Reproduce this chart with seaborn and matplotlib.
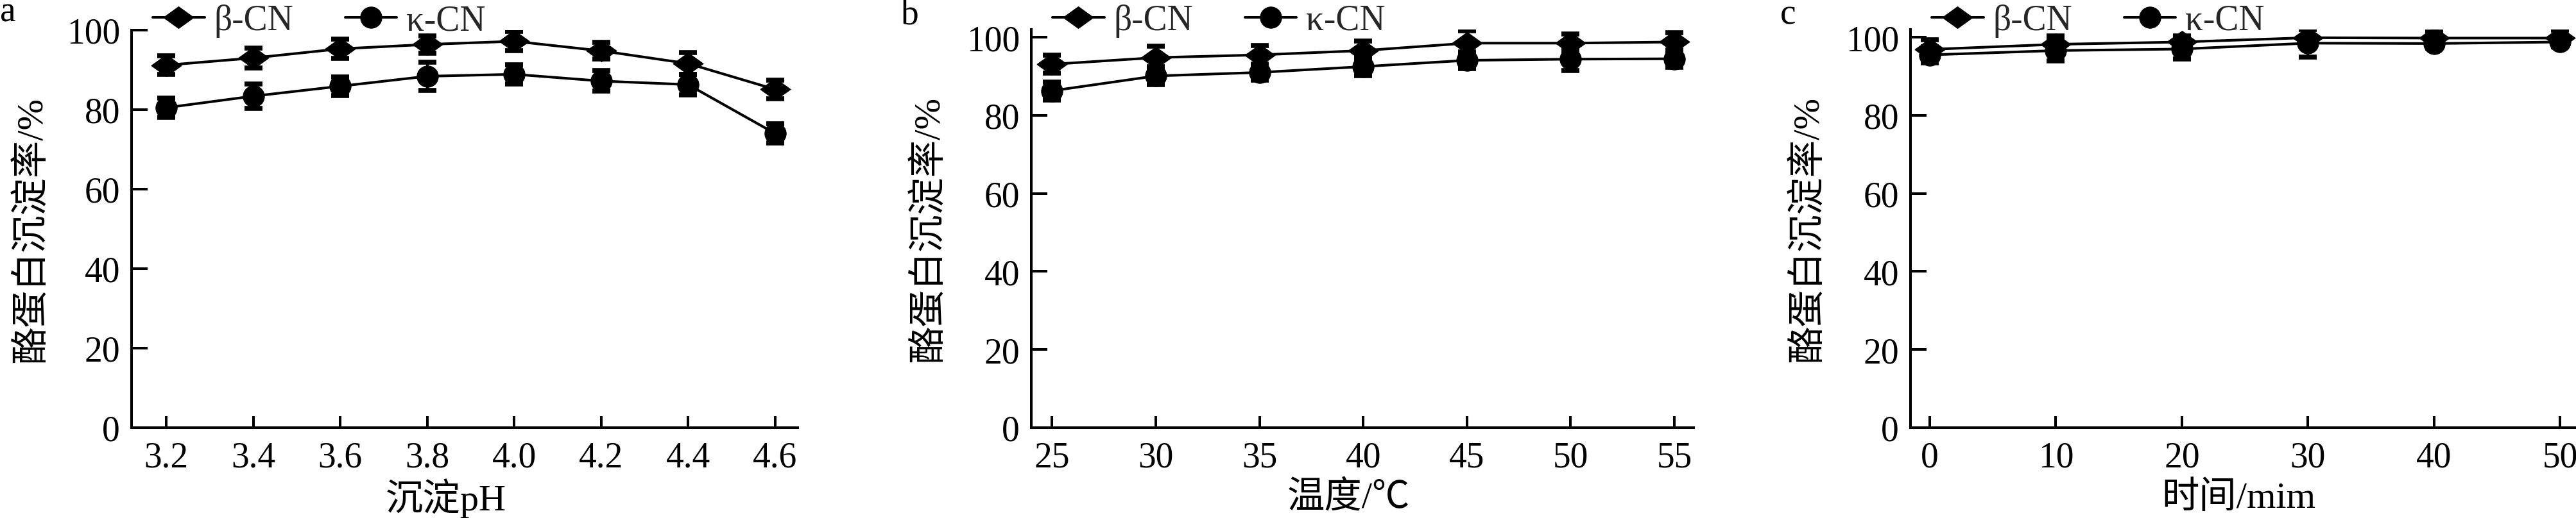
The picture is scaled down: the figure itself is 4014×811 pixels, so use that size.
import matplotlib
matplotlib.use("Agg")
import matplotlib.pyplot as plt
import seaborn as sns
import numpy as np

# ---------------- data ----------------
ph = [3.2, 3.4, 3.6, 3.8, 4.0, 4.2, 4.4, 4.6]
ph_labels = ["3.2", "3.4", "3.6", "3.8", "4.0", "4.2", "4.4", "4.6"]
a_beta = [91.2, 93.0, 95.3, 96.4, 97.2, 94.8, 91.6, 85.1]
a_beta_err = [2.3, 2.5, 2.4, 2.2, 2.4, 2.1, 2.7, 2.4]
a_kappa = [80.5, 83.4, 85.9, 88.4, 88.9, 87.2, 86.3, 74.0]
a_kappa_err = [2.4, 3.0, 2.4, 3.6, 2.4, 2.6, 2.6, 2.4]

temp = [25, 30, 35, 40, 45, 50, 55]
temp_labels = ["25", "30", "35", "40", "45", "50", "55"]
b_beta = [93.1, 94.8, 95.5, 96.6, 98.5, 98.5, 98.8]
b_beta_err = [2.3, 2.9, 2.4, 2.5, 3.1, 2.4, 2.4]
b_kappa = [86.3, 90.1, 91.0, 92.5, 94.1, 94.4, 94.5]
b_kappa_err = [2.3, 2.3, 2.0, 2.4, 2.2, 2.9, 2.2]

time = [0, 10, 20, 30, 40, 50]
time_labels = ["0", "10", "20", "30", "40", "50"]
c_beta = [96.9, 98.2, 98.8, 99.9, 99.8, 99.8]
c_beta_err = [2.4, 2.2, 1.5, 2.3, 1.5, 2.0]
c_kappa = [95.5, 96.6, 97.0, 98.5, 98.4, 98.8]
c_kappa_err = [2.1, 2.7, 2.6, 3.5, 1.2, 1.2]

y_ticks = [0, 20, 40, 60, 80, 100]
y_label = "酪蛋白沉淀率/%"
series_names = ["β-CN", "κ-CN"]
x_titles = ["沉淀pH", "温度/℃", "时间/mim"]
panel_letters = ["a", "b", "c"]

# ---------------- style ----------------
sns.set_style("white")
plt.rcParams["font.family"] = ["Liberation Serif", "Noto Sans CJK SC", "DejaVu Sans"]
plt.rcParams["axes.unicode_minus"] = False

FS = 40
LFS = 42
LW = 2.9
wide_diamond = [(-1, 0), (0, 0.72), (1, 0), (0, -0.72), (-1, 0)]

fig = plt.figure(figsize=(40.14, 8.12), dpi=100)
W, H = 4014.0, 812.0
bottom_px = 668.0

panels = [
    dict(left=205, right=1243, top=48, x=ph, xl=ph_labels, xlim=(3.12, 4.652), ylim=(0, 100),
         beta=a_beta, be=a_beta_err, kappa=a_kappa, ke=a_kappa_err, letter_x=0, letter_y=33,
         ylab_x=49, xlab_x=695),
    dict(left=1607, right=2639, top=47, x=temp, xl=temp_labels, xlim=(24.0, 55.93), ylim=(0, 102),
         beta=b_beta, be=b_beta_err, kappa=b_kappa, ke=b_kappa_err, letter_x=1404, letter_y=38,
         ylab_x=1447, xlab_x=2101),
    dict(left=2977, right=4014, top=47, x=time, xl=time_labels, xlim=(-1.53, 51.27), ylim=(0, 102),
         beta=c_beta, be=c_beta_err, kappa=c_kappa, ke=c_kappa_err, letter_x=2774, letter_y=38,
         ylab_x=2817, xlab_x=3488),
]

for i, p in enumerate(panels):
    wpx = p["right"] - p["left"]
    hpx = bottom_px - p["top"]
    ax = fig.add_axes([p["left"] / W, (H - bottom_px) / H, wpx / W, hpx / H])
    ax.set_facecolor("white")
    # error bars
    for vals, errs in ((p["beta"], p["be"]), (p["kappa"], p["ke"])):
        ax.errorbar(p["x"], vals, yerr=errs, fmt="none", ecolor="black",
                    elinewidth=LW, capsize=10, capthick=5.5, zorder=2)
    sns.lineplot(x=p["x"], y=p["beta"], ax=ax, color="black", linewidth=LW,
                 marker=wide_diamond, markersize=34, markeredgecolor="black",
                 markerfacecolor="black", label=series_names[0], zorder=3)
    sns.lineplot(x=p["x"], y=p["kappa"], ax=ax, color="black", linewidth=LW,
                 marker="o", markersize=24, markeredgecolor="black",
                 markerfacecolor="black", label=series_names[1], zorder=3)
    if ax.get_legend() is not None:
        ax.get_legend().remove()
    lines = [ln for ln in ax.get_lines() if ln.get_label() in series_names]
    leg = ax.legend(lines, series_names, loc="center left",
                    bbox_to_anchor=(33.0 / wpx, (bottom_px - 33) / hpx),
                    ncol=2, frameon=False, fontsize=FS, handlelength=1.45,
                    handletextpad=0.27, columnspacing=1.45, borderpad=0,
                    borderaxespad=0, numpoints=1)
    leg.set_clip_on(False)

    ax.set_xlim(*p["xlim"])
    ax.set_ylim(*p["ylim"])
    ax.set_xticks(p["x"])
    ax.set_xticklabels(p["xl"])
    ax.set_yticks(y_ticks)
    ax.set_yticklabels([str(v) for v in y_ticks])
    for s in ("top", "right"):
        ax.spines[s].set_visible(False)
    for s in ("left", "bottom"):
        ax.spines[s].set_linewidth(LW)
        ax.spines[s].set_color("black")
    ax.tick_params(axis="y", direction="in", length=18, width=LW, labelsize=FS, pad=13,
                   colors="black", left=True)
    ax.tick_params(axis="x", direction="in", length=13, width=LW, labelsize=FS, pad=15,
                   colors="black", bottom=True)
    ax.set_ylabel(y_label, fontsize=LFS, color="black")
    ax.yaxis.label.set_verticalalignment("center")
    ax.yaxis.set_label_coords((p["ylab_x"] - p["left"]) / wpx, 0.5)
    ax.set_xlabel(x_titles[i], fontsize=LFS, color="black")
    ax.xaxis.label.set_verticalalignment("center")
    ax.xaxis.set_label_coords((p["xlab_x"] - p["left"]) / wpx, -(777 - bottom_px) / hpx)
    ax.grid(False)

    fig.text(p["letter_x"] / W, (H - p["letter_y"]) / H, panel_letters[i],
             fontsize=FS, ha="left", va="baseline", color="black")

fig.savefig("out.png", dpi=100, facecolor="white")
